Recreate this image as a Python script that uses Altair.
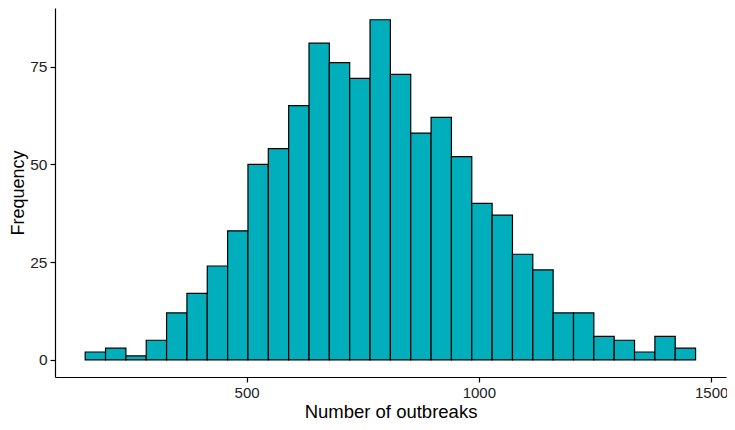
import altair as alt
import pandas as pd

# Histogram: 30 bins
bin_first_edge = 152.5
bin_width = 43.8
counts = [2, 3, 1, 5, 12, 17, 24, 33, 50, 54, 65, 81, 76, 72, 87,
          73, 58, 62, 52, 40, 37, 27, 23, 12, 12, 6, 5, 2, 6, 3]
x_ticks = [500, 1000, 1500]
y_ticks = [0, 25, 50, 75]

starts = [bin_first_edge + i * bin_width for i in range(len(counts))]
df = pd.DataFrame({
    "start": starts,
    "end": [s + bin_width for s in starts],
    "count": counts,
})

FONT = "Liberation Sans"

chart = alt.Chart(df).mark_rect(
    fill="#00AFBB", stroke="black", strokeWidth=1.2
).encode(
    x=alt.X("start:Q",
            scale=alt.Scale(domain=[87.5, 1532], nice=False, zero=False),
            axis=alt.Axis(values=x_ticks, format="d", title="Number of outbreaks", grid=False,
                          domainColor="black", domainWidth=1.2, tickColor="black",
                          tickWidth=1.2, tickSize=5, labelPadding=3,
                          labelFontSize=15, labelColor="#222", labelFont=FONT,
                          titleFont=FONT, titleFontSize=18.5, titleFontWeight="normal",
                          titleColor="black", titlePadding=2, labelFlush=False)),
    x2="end:Q",
    y=alt.Y("count:Q",
            scale=alt.Scale(domain=[-4.4, 90], nice=False, zero=False),
            axis=alt.Axis(values=y_ticks, title="Frequency", grid=False,
                          domainColor="black", domainWidth=1.2, tickColor="black",
                          tickWidth=1.2, tickSize=5, labelPadding=3,
                          labelFontSize=15.5, labelColor="#222", labelFont=FONT,
                          titleFont=FONT, titleFontSize=18, titleFontWeight="normal",
                          titleColor="black", titlePadding=2, labelFlush=False)),
    y2=alt.datum(0),
).properties(
    width=671,
    height=369,
    autosize=alt.AutoSizeParams(type="none"),
    padding={"left": 47, "top": 0, "right": 1, "bottom": 44},
).configure_view(stroke=None)

chart.save("out.html", embed_options={"renderer": "svg", "actions": False})
